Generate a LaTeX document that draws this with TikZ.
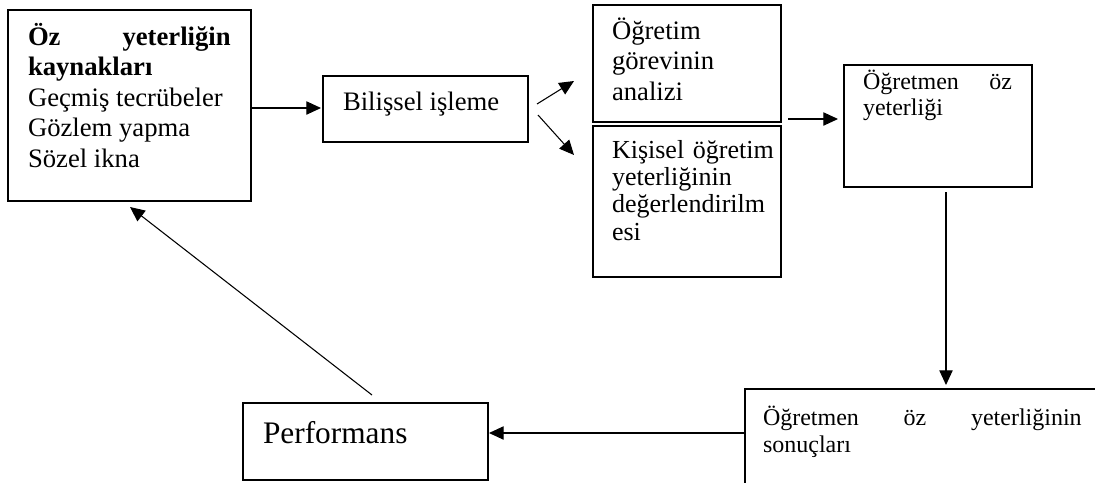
\documentclass[tikz,border=0pt]{standalone}
\usepackage{fontspec}
\setmainfont{Liberation Serif}
\usetikzlibrary{arrows.meta,calc,fit}
\hyphenpenalty=10000
\exhyphenpenalty=10000
\begin{document}
\begin{tikzpicture}[x=0.75pt,y=-0.75pt,
  box/.style={draw, line width=0.8pt, inner sep=0pt, outer sep=0pt},
  txt/.style={anchor=base west, inner sep=0pt, outer sep=0pt},
  arr/.style={line width=0.8pt, -{Triangle[length=11pt,width=10pt]}}]
\useasboundingbox (0,0) rectangle (1095,482);
\clip (0,0) rectangle (1095,482);
% boxes
\node[box, fit={(8,10)(251,201)}] (src) {};
\node[box, fit={(323,76)(528,142)}] (bil) {};
\node[box, fit={(593,5)(781,122)}] (ana) {};
\node[box, fit={(593,126)(781,277)}] (kis) {};
\node[box, fit={(844,65)(1032,187)}] (oy) {};
\node[box, fit={(745,389)(1130,530)}] (son) {};
\node[box, fit={(243,403)(488,480)}] (perf) {};
% texts
\node[txt, text width=152pt, align=justify, font={\fontsize{20pt}{22.9pt}\selectfont}] (tsrc) at (28,45)
  {\textbf{Öz yeterliğin kaynakları}\\Geçmiş tecrübeler\\Gözlem yapma\\Sözel ikna};
\node[txt, font={\fontsize{20pt}{22.9pt}\selectfont}] (tbil) at (343,110) {Bilişsel işleme};
\node[txt, text width=125pt, align=left, font={\fontsize{20pt}{22.9pt}\selectfont}] (tana) at (612,39)
  {Öğretim\\görevinin\\analizi};
\node[txt, text width=128pt, align=left, font={\fontsize{19.5pt}{20.5pt}\selectfont}] (tkis) at (612,158)
  {Kişisel öğretim\\yeterliğinin\\değerlendirilm\\esi};
\node[txt, text width=111.75pt, align=justify, font={\fontsize{18pt}{19.5pt}\selectfont}] (toy) at (863,89)
  {Öğretmen öz yeterliği};
\node[txt, text width=239pt, align=justify, font={\fontsize{18pt}{20.3pt}\selectfont}] (tson) at (763,425)
  {Öğretmen öz yeterliğinin sonuçları};
\node[txt, font={\fontsize{23.5pt}{26pt}\selectfont}] (tperf) at (263,443) {Performans};
% connectors
\draw[arr] ($(src.north east)+(0,98)$) -- ($(bil.north west)+(-2,32)$);
\draw[arr] ($(bil.north east)+(9,28)$) -- ($(ana.north west)+(-19,76)$);
\draw[arr] ($(bil.north east)+(10,39)$) -- ($(kis.north west)+(-19,29)$);
\draw[arr] ($(ana.south east)+(7,-3)$) -- ($(oy.north west)+(-6,54)$);
\draw[arr] ($(oy.south west)+(102,5)$) -- ($(son.north west)+(201,-4)$);
\draw[arr] ($(son.north west)+(0,44)$) -- ($(perf.north east)+(1,30)$);
\draw[arr] ($(perf.north west)+(129,-8)$) -- ($(src.south west)+(122,6)$);
\end{tikzpicture}
\end{document}
